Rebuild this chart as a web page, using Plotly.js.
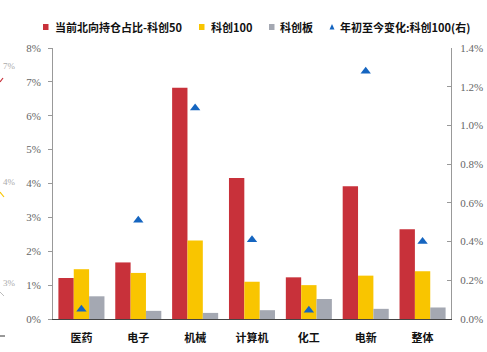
<!DOCTYPE html>
<html><head><meta charset="utf-8">
<script src="https://cdn.plot.ly/plotly-3.0.1.min.js"></script>
<style>html,body{margin:0;padding:0;background:#fff}#c{width:487px;height:352px}</style>
</head><body><div id="c"></div>
<script>
const categories = ['医药','电子','机械','计算机','化工','电新','整体'];
const kc50 = [1.21, 1.67, 6.83, 4.16, 1.23, 3.92, 2.65];
const kc100 = [1.47, 1.36, 2.32, 1.10, 1.00, 1.28, 1.41];
const kcb = [0.67, 0.24, 0.18, 0.26, 0.59, 0.30, 0.34];
const chg = [0.05, 0.51, 1.09, 0.41, 0.045, 1.28, 0.40];
const legendNames = ['当前北向持仓占比-科创50','科创100','科创板','年初至今变化:科创100(右)'];
const leftTicks = [0,1,2,3,4,5,6,7,8];
const rightTicks = [0,0.2,0.4,0.6,0.8,1.0,1.2,1.4];

const RED='#C8313A', YEL='#F9C500', GRY='#A4A8B2', BLU='#1565C0';
const CJK = "Noto Sans CJK SC, Noto Sans, sans-serif";
const SERIF = "Liberation Serif";

// plot area in px
const L=53, R=451, T=48, B=319;
const px = x => (x - L)/(R - L);
const py = y => (B - y)/(B - T);

const traces = [
  {type:'bar', x:categories, y:kc50, name:legendNames[0], marker:{color:RED}, yaxis:'y'},
  {type:'bar', x:categories, y:kc100, name:legendNames[1], marker:{color:YEL}, yaxis:'y'},
  {type:'bar', x:categories, y:kcb, name:legendNames[2], marker:{color:GRY}, yaxis:'y'},
  {type:'scatter', mode:'markers', x:categories, y:chg, name:legendNames[3], yaxis:'y2',
   marker:{symbol:'triangle-up', size:9, color:BLU}}
];

const legendY = 27;
const legendItems = [
  {sx:43, tx:52.5, c:RED, t:legendNames[0], tri:false},
  {sx:199, tx:208.5, c:YEL, t:legendNames[1], tri:false},
  {sx:269, tx:278, c:GRY, t:legendNames[2], tri:false},
  {sx:329.5, tx:338, c:BLU, t:legendNames[3], tri:true}
];
const shapes = [];
const annotations = [];
legendItems.forEach(it => {
  if (it.tri) {
    const x0=px(it.sx), x1=px(it.sx+5), xm=px(it.sx+2.5), yb=py(legendY+2.5), yt=py(legendY-3);
    shapes.push({type:'path', xref:'paper', yref:'paper', path:`M ${x0} ${yb} L ${x1} ${yb} L ${xm} ${yt} Z`, fillcolor:it.c, line:{width:0}});
  } else {
    shapes.push({type:'rect', xref:'paper', yref:'paper', x0:px(it.sx), x1:px(it.sx+5.5), y0:py(legendY+3), y1:py(legendY-3), fillcolor:it.c, line:{width:0}});
  }
  annotations.push({xref:'paper', yref:'paper', x:px(it.tx), y:py(legendY), xanchor:'left', yanchor:'middle',
    text:it.t, showarrow:false, font:{family:CJK, size:11, color:'#111', weight:'bold'}});
});
// fragments of a neighbouring chart at the left edge
[['7%',66],['4%',182],['3%',283]].forEach(([t,y]) => {
  annotations.push({xref:'paper', yref:'paper', x:px(1), y:py(y), xanchor:'left', yanchor:'middle',
    text:t, showarrow:false, font:{family:SERIF, size:9, color:'#aaa'}});
});
shapes.push({type:'line', xref:'paper', yref:'paper', x0:px(0), y0:py(82), x1:px(3), y1:py(78), line:{color:RED, width:1.2}});
shapes.push({type:'line', xref:'paper', yref:'paper', x0:px(0), y0:py(192), x1:px(4), y1:py(197), line:{color:YEL, width:1.2}});
shapes.push({type:'line', xref:'paper', yref:'paper', x0:px(0), y0:py(292), x1:px(4), y1:py(296), line:{color:'#bbb', width:1}});
shapes.push({type:'line', xref:'paper', yref:'paper', x0:px(0), y0:py(336), x1:px(5), y1:py(336), line:{color:'#333', width:1}});

const layout = {
  width:487, height:352,
  margin:{l:L, r:487-R, t:T, b:352-B, pad:0},
  paper_bgcolor:'#fff', plot_bgcolor:'#fff',
  showlegend:false,
  barmode:'group', bargap:0.19, bargroupgap:0,
  xaxis:{type:'category', showline:true, linecolor:'#444', linewidth:1, ticks:'', showgrid:false, zeroline:false,
    tickfont:{family:CJK, size:11, color:'#111', weight:'bold'}, ticklabelstandoff:9},
  yaxis:{range:[0,8], tickvals:leftTicks, ticktext:leftTicks.map(v=>v+'%'), showgrid:false, zeroline:false,
    showline:true, linecolor:'#999', linewidth:1, ticks:'outside', ticklen:4, tickcolor:'#999',
    tickfont:{family:SERIF, size:11, color:'#666'}, ticklabelstandoff:5},
  yaxis2:{range:[0,1.4], overlaying:'y', side:'right', tickvals:rightTicks, ticktext:rightTicks.map(v=>v.toFixed(1)+'%'),
    showgrid:false, zeroline:false, showline:true, linecolor:'#999', linewidth:1, ticks:'inside', ticklen:4, tickcolor:'#999',
    tickfont:{family:SERIF, size:11, color:'#666'}, ticklabelstandoff:6},
  shapes:shapes, annotations:annotations
};
Plotly.newPlot('c', traces, layout, {displayModeBar:false, staticPlot:true});
</script></body></html>
